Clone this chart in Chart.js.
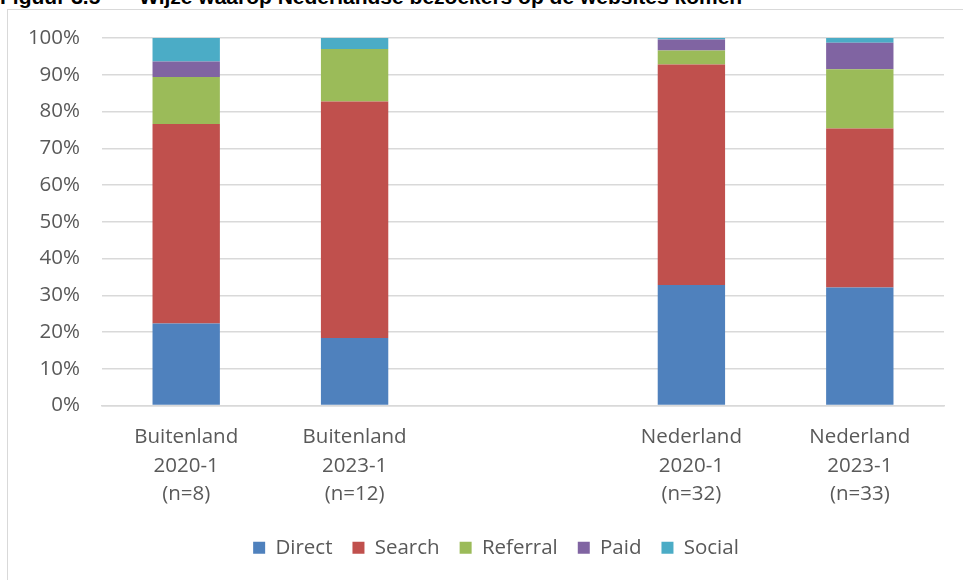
<!DOCTYPE html>
<html>
<head>
<meta charset="utf-8">
<script src="https://cdn.jsdelivr.net/npm/chart.js@4.4.1/dist/chart.umd.min.js"></script>
<style>
  body{ margin:0; background:#fff; overflow:hidden; }
  #wrap{ position:relative; width:963px; height:580px; overflow:hidden; }
  #title{ position:absolute; left:0; top:-15px; font:bold 21px "Liberation Sans", Arial, sans-serif; color:#000; white-space:nowrap; }
  #title span{ position:absolute; top:0; }
  #frame{ position:absolute; left:7px; top:9px; width:980px; height:600px; border:1.5px solid #d9d9d9; box-sizing:border-box; }
  #c{ position:absolute; left:0; top:0; }
</style>
</head>
<body>
<div id="wrap">
  <div id="title"><span style="left:0">Figuur 3.5</span><span style="left:139px">Wijze waarop Nederlandse bezoekers op de websites komen</span></div>
  <div id="frame"></div>
  <canvas id="c" width="963" height="580"></canvas>
</div>
<script>
// ===============================
// DATA
// ===============================
let categories = [
  ["Buitenland","2020-1","(n=8)"],
  ["Buitenland","2023-1","(n=12)"],
  ["","",""],
  ["Nederland","2020-1","(n=32)"],
  ["Nederland","2023-1","(n=33)"]
];

let direct   = [22.3, 18.4, null, 32.8, 32.1];
let search   = [54.3, 64.3, null, 60.0, 43.3];
let referral = [12.8, 14.3, null,  3.8, 16.1];
let paid     = [ 4.2,  0.0, null,  3.0,  7.2];
let social   = [ 6.4,  3.0, null,  0.4,  1.3];

let yTicks = [0,10,20,30,40,50,60,70,80,90,100];

// ===============================
// CHART
// ===============================
let font = "'Open Sans', sans-serif";
let grey = "#595959";

function ds(label, data, color){
  return {
    label: label,
    data: data,
    backgroundColor: color,
    borderWidth: 0,
    barPercentage: 0.4,
    categoryPercentage: 1.0
  };
}

// legend sits a bit left of the plot centre in the original, nudge it
let legendShift = {
  id: "legendShift",
  afterLayout: function(chart){
    chart.legend.left += 24;
    chart.legend.right += 24;
  }
};

let ctx = document.getElementById("c").getContext("2d");

new Chart(ctx, {
  type: "bar",
  data: {
    labels: categories,
    datasets: [
      ds("Direct", direct, "#4f81bd"),
      ds("Search", search, "#c0504d"),
      ds("Referral", referral, "#9bbb59"),
      ds("Paid", paid, "#8064a2"),
      ds("Social", social, "#4bacc6")
    ]
  },
  plugins: [legendShift],
  options: {
    responsive: false,
    animation: false,
    layout: { padding: { left: 0, right: 19, top: 38, bottom: 12 } },
    plugins: {
      tooltip: { enabled: false },
      legend: {
        position: "bottom",
        labels: {
          font: { family: font, size: 20.5 },
          color: grey,
          boxWidth: 12,
          boxHeight: 12,
          padding: 20
        }
      }
    },
    scales: {
      x: {
        stacked: true,
        grid: { display: false, drawTicks: false },
        border: { display: true, color: "#d9d9d9", width: 1.5 },
        ticks: {
          color: grey,
          font: { family: font, size: 20.5, lineHeight: 1.38 },
          padding: 18,
          maxRotation: 0,
          autoSkip: false
        },
        afterFit: function(scale){ scale.height = 112; }
      },
      y: {
        stacked: true,
        min: 0,
        max: 100,
        afterBuildTicks: function(scale){
          scale.ticks = yTicks.map(function(v){ return { value: v }; });
        },
        grid: { color: "#d9d9d9", lineWidth: 1.5, drawTicks: false },
        border: { display: false },
        ticks: {
          color: grey,
          font: { family: font, size: 20.5 },
          padding: 22,
          callback: function(v){ return v + "%"; }
        },
        afterFit: function(scale){ scale.width = 102; }
      }
    }
  }
});
</script>
</body>
</html>
